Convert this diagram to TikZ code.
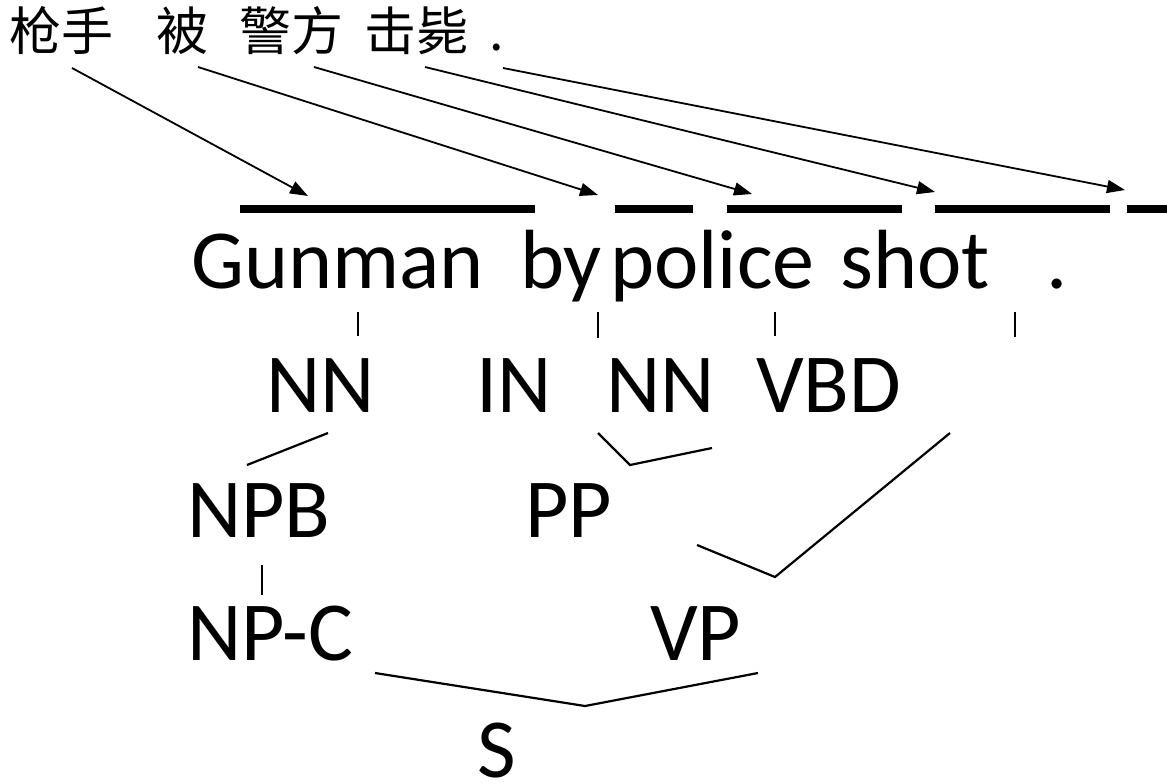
\documentclass[tikz,border=0pt]{standalone}
\usepackage{fontspec}
\setmainfont{Carlito}
\newfontfamily\cjk{Noto Sans CJK SC}
\usetikzlibrary{arrows.meta}
\begin{document}
\begin{tikzpicture}[x=1pt,y=-1pt,
  en/.style={font=\fontsize{84}{100}\selectfont, inner sep=0pt, anchor=base west},
  zh/.style={font=\cjk\fontsize{52}{62}\selectfont, inner sep=0pt, anchor=base west},
  bar/.style={line width=8pt},
  tick/.style={line width=1.6pt},
  edge/.style={line width=2.2pt, line join=miter},
  arr/.style={line width=1.8pt, -{Triangle[length=18pt,width=13pt]}}]
\useasboundingbox (0,0) rectangle (1167,784);
% Chinese source words
\node[zh] (z1) at (9,51) {枪手};
\node[zh] (z2) at (156,51) {被};
\node[zh] (z3) at (239,51) {警方};
\node[zh] (z4) at (364,51) {击毙};
\node[zh] (z5) at (489,51) {.};
% bars
\draw[bar] (240,209) coordinate (b1s) -- (535,209) coordinate (b1);
\draw[bar] (615,209) coordinate (b2s) -- (693,209) coordinate (b2);
\draw[bar] (727,209) coordinate (b3s) -- (902,209) coordinate (b3);
\draw[bar] (935,209) coordinate (b4s) -- (1110,209) coordinate (b4);
\draw[bar] (1127,209) coordinate (b5s) -- (1167,209) coordinate (b5);
% arrow endpoints
\coordinate (a1s) at (72,68);   \coordinate (a1e) at (308,196);
\coordinate (a2s) at (198,67);  \coordinate (a2e) at (598,195);
\coordinate (a3s) at (314,67);  \coordinate (a3e) at (752,194);
\coordinate (a4s) at (425,67);  \coordinate (a4e) at (935,192);
\coordinate (a5s) at (503,68);  \coordinate (a5e) at (1125,190);
\draw[arr] (a1s) -- (a1e);
\draw[arr] (a2s) -- (a2e);
\draw[arr] (a3s) -- (a3e);
\draw[arr] (a4s) -- (a4e);
\draw[arr] (a5s) -- (a5e);
% English words
\node[en] (w1) at (191,288) {Gunman};
\node[en] (w2) at (520,288) {by};
\node[en] (w3) at (610,288) {police};
\node[en] (w4) at (840,288) {shot};
\node[en] (w5) at (1046,288) {.};
% ticks
\draw[tick] (358,312) coordinate (t1a) -- (358,336) coordinate (t1b);
\draw[tick] (598,312) coordinate (t2a) -- (598,338) coordinate (t2b);
\draw[tick] (775,312) coordinate (t3a) -- (775,336) coordinate (t3b);
\draw[tick] (1015,312) coordinate (t4a) -- (1015,337) coordinate (t4b);
% tree labels
\node[en] (nn1) at (266,412) {NN};
\node[en] (in) at (476,412) {IN};
\node[en] (nn2) at (606,412) {NN};
\node[en] (vbd) at (756,412) {VBD};
\node[en] (npb) at (187,537) {NPB};
\node[en] (pp) at (525,537) {PP};
\node[en] (npc) at (187,660) {NP-C};
\node[en] (vp) at (650,660) {VP};
\node[en] (s) at (477,777) {S};
% tree edges
\coordinate (e1a) at (328,433); \coordinate (e1b) at (247,465);
\draw[edge] (e1a) -- (e1b);
\coordinate (e2a) at (598,433); \coordinate (e2m) at (630,465); \coordinate (e2b) at (712,448);
\draw[edge] (e2a) -- (e2m) -- (e2b);
\coordinate (e3a) at (950,433); \coordinate (e3m) at (775,577); \coordinate (e3b) at (697,545);
\draw[edge] (e3a) -- (e3m) -- (e3b);
\coordinate (e4a) at (262,565); \coordinate (e4b) at (262,595);
\draw[tick] (e4a) -- (e4b);
\coordinate (e5a) at (375,673); \coordinate (e5m) at (585,706); \coordinate (e5b) at (758,673);
\draw[edge] (e5a) -- (e5m) -- (e5b);
\end{tikzpicture}
\end{document}
